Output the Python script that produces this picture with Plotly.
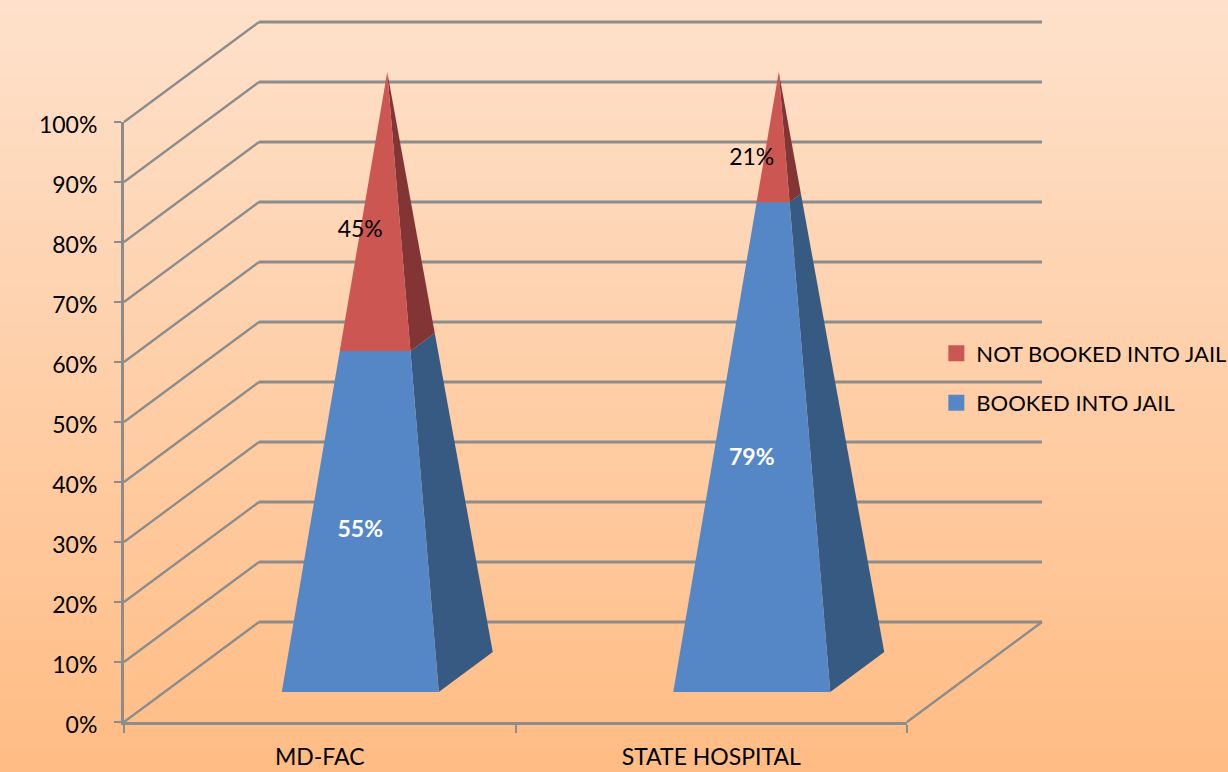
import plotly.graph_objects as go

# ---- data ----
categories = ["MD-FAC", "STATE HOSPITAL"]
booked = [55, 79]
not_booked = [45, 21]
booked_name = "BOOKED INTO JAIL"
not_booked_name = "NOT BOOKED INTO JAIL"
y_ticks = [0, 10, 20, 30, 40, 50, 60, 70, 80, 90, 100]
y_tick_labels = [f"{v}%" for v in y_ticks]

# ---- styling / oblique projection ----
W, H = 1228, 772
AX_L, AX_R, AX_B, AX_T = 124, 907, 722, 122   # front plane, pixels
SLOT = (AX_R - AX_L) / len(categories)
UNIT_Y = (AX_B - AX_T) / 100
DEPTH_X = 135 / SLOT          # full depth in x-axis units
DEPTH_Y = 100 / UNIT_Y        # full depth in y-axis units
HALF_W = 78.5 / SLOT
DEPTH_CENTRE, DEPTH_HALF = 0.5, 0.2
LABEL_DROP = 4 / UNIT_Y
GRID = "#8c8c8c"
BLUE, BLUE_D = "#5587C6", "#375A83"
RED, RED_D = "#CB5652", "#823534"
FONT = "Lato"
TOP_RGB, BOT_RGB = (254, 225, 203), (255, 188, 132)
OVER = dict(xaxis="x2", yaxis="y2")


def project(x, v, depth):
    return x + depth * DEPTH_X, v + depth * DEPTH_Y


def corner(i, v, side, back):
    """Point of pyramid i at value v; side=-1/+1 left/right, back=False/True."""
    t = v / 100
    d = DEPTH_CENTRE + (DEPTH_HALF if back else -DEPTH_HALF) * (1 - t)
    return project(i + 0.5 + side * HALF_W * (1 - t), v, d)


def add_poly(fig, pts, color):
    fig.add_trace(go.Scatter(
        x=[p[0] for p in pts] + [pts[0][0]], y=[p[1] for p in pts] + [pts[0][1]],
        mode="lines", fill="toself", fillcolor=color, line=dict(width=0, color=color),
        hoverinfo="skip", showlegend=False, **OVER))


fig = go.Figure()

# legend entries live on the real (front-plane) axes
fig.add_trace(go.Scatter(x=[None], y=[None], mode="markers", name=not_booked_name, legendgroup="b",
                         marker=dict(symbol="square", size=16, color=RED)))
fig.add_trace(go.Scatter(x=[None], y=[None], mode="markers", name=booked_name, legendgroup="a",
                         marker=dict(symbol="square", size=16, color=BLUE)))

# walls and floor grid
n = len(categories)
for v in y_ticks:
    p0 = project(0, v, 0)
    p1 = project(0, v, 1)
    p2 = project(n, v, 1)
    fig.add_trace(go.Scatter(x=[p0[0], p1[0]], y=[p0[1], p1[1]], mode="lines",
                             line=dict(color=GRID, width=2.3), hoverinfo="skip",
                             showlegend=False, **OVER))
    fig.add_trace(go.Scatter(x=[p1[0], p2[0]], y=[p1[1], p2[1]], mode="lines",
                             line=dict(color=GRID, width=3), hoverinfo="skip",
                             showlegend=False, **OVER))
fr = project(n, 0, 1)
fig.add_trace(go.Scatter(x=[n, fr[0]], y=[0, fr[1]], mode="lines",
                         line=dict(color=GRID, width=2.3), hoverinfo="skip",
                         showlegend=False, **OVER))

# pyramids
for i in range(n):
    b = booked[i]
    top = b + not_booked[i]
    add_poly(fig, [corner(i, 0, 1, False), corner(i, 0, 1, True),
                   corner(i, b, 1, True), corner(i, b, 1, False)], BLUE_D)
    add_poly(fig, [corner(i, 0, -1, False), corner(i, 0, 1, False),
                   corner(i, b, 1, False), corner(i, b, -1, False)], BLUE)
    add_poly(fig, [corner(i, b, 1, False), corner(i, b, 1, True),
                   corner(i, top, 1, True), corner(i, top, 1, False)], RED_D)
    add_poly(fig, [corner(i, b, -1, False), corner(i, b, 1, False),
                   corner(i, top, 1, False), corner(i, top, -1, False)], RED)

# data labels
lab_x, lab_y, lab_t, lab_c = [], [], [], []
for i in range(n):
    x1, y1 = project(i + 0.5, booked[i] / 2, 0.3)
    x2, y2 = project(i + 0.5, booked[i] + not_booked[i] / 2, 0.3)
    lab_x += [x1, x2]
    lab_y += [y1 - LABEL_DROP, y2 - LABEL_DROP]
    lab_t += [f"<b>{booked[i]}%</b>", f"{not_booked[i]}%"]
    lab_c += ["white", "black"]
fig.add_trace(go.Scatter(x=lab_x, y=lab_y, text=lab_t, mode="text", textposition="middle center",
                         textfont=dict(family=FONT, size=23, color=lab_c), hoverinfo="skip",
                         showlegend=False, **OVER))

# background gradient
shapes = []
STEP = 4
for py in range(0, H, STEP):
    f = py / H
    c = tuple(round(a + (b - a) * f) for a, b in zip(TOP_RGB, BOT_RGB))
    shapes.append(dict(type="rect", xref="paper", yref="paper", layer="below",
                       x0=0, x1=1, y0=1 - py / H, y1=1 - (py + STEP + 1) / H,
                       line=dict(width=0), fillcolor=f"rgb{c}"))

fig.update_layout(
    width=W, height=H, margin=dict(l=0, r=0, t=0, b=0, autoexpand=False), autosize=False,
    paper_bgcolor="rgb(255,210,170)", plot_bgcolor="rgba(0,0,0,0)",
    font=dict(family=FONT, size=23, color="black"), shapes=shapes,
    hovermode=False, showlegend=True,
    legend=dict(x=0.7625, y=0.5695, xanchor="left", yanchor="top", traceorder="grouped",
                bgcolor="rgba(0,0,0,0)", font=dict(family=FONT, size=22), tracegroupgap=18,
                itemwidth=30),
    xaxis=dict(domain=[AX_L / W, AX_R / W], range=[0, n], showgrid=False, zeroline=False,
               showline=True, linecolor=GRID, linewidth=3,
               tickmode="array", tickvals=[i + 0.5 for i in range(n)], ticktext=categories,
               ticks="", ticklabelstandoff=12,
               minor=dict(tickmode="array", tickvals=list(range(n + 1)), ticks="outside",
                          ticklen=8, tickwidth=2, tickcolor=GRID, showgrid=False)),
    yaxis=dict(domain=[(H - AX_B) / H, (H - AX_T) / H], range=[0, 100], showgrid=False,
               zeroline=False, showline=True, linecolor=GRID, linewidth=3,
               tickmode="array", tickvals=y_ticks, ticktext=y_tick_labels,
               ticks="outside", ticklen=7, tickwidth=2, tickcolor=GRID,
               ticklabelstandoff=12, ticklabelshift=3),
    # overlay axes with the same units, spanning the whole page, for the oblique drawing
    xaxis2=dict(domain=[0, 1], range=[-AX_L / SLOT, (W - AX_L) / SLOT], visible=False, anchor="y2"),
    yaxis2=dict(domain=[0, 1], range=[(AX_B - H) / UNIT_Y, AX_B / UNIT_Y], visible=False, anchor="x2"),
)

fig.write_html("out.html", config=dict(displayModeBar=False),
               post_script="document.body.style.margin='0';document.body.style.overflow='hidden';")
